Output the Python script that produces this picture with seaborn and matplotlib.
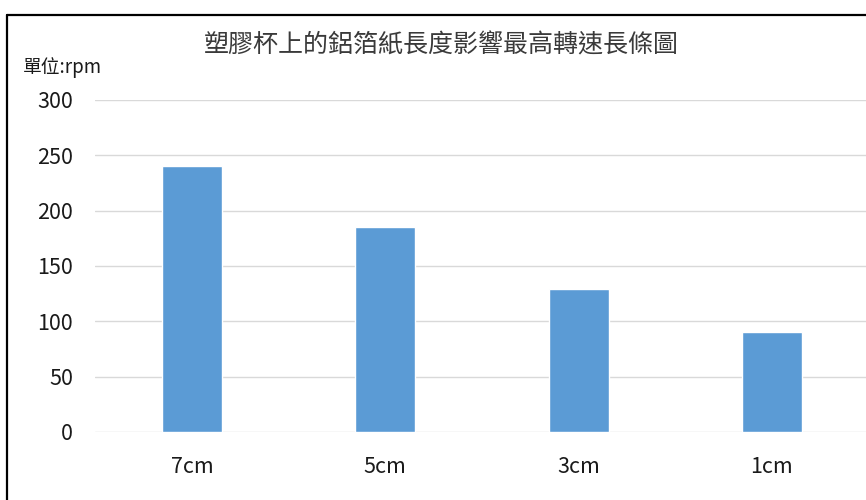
import matplotlib
matplotlib.use("Agg")
import matplotlib.pyplot as plt
from matplotlib.lines import Line2D
import seaborn as sns
import pandas as pd

# Aluminium foil length on the plastic cup vs. highest rotation speed
lengths = ["7cm", "5cm", "3cm", "1cm"]
max_rpm = [240, 185, 129, 90]
y_ticks = [0, 50, 100, 150, 200, 250, 300]
title = "塑膠杯上的鋁箔紙長度影響最高轉速長條圖"
unit_label = "單位:rpm"

sns.set_theme(style="white")
plt.rcParams["font.family"] = ["Noto Sans CJK TC", "DejaVu Sans"]

df = pd.DataFrame({"length": lengths, "rpm": max_rpm})

fig = plt.figure(figsize=(8.66, 5.0), dpi=100)
ax = fig.add_axes([0.110, 0.136, 0.893, 0.664])

sns.barplot(data=df, x="length", y="rpm", order=lengths, color="#5B9BD5",
            saturation=1, width=0.31, ax=ax, zorder=3)

ax.set_xlim(-0.5, 3.5)
ax.set_ylim(0, 300)
ax.set_yticks(y_ticks)
ax.set_yticklabels([str(v) for v in y_ticks])
ax.set_xlabel("")
ax.set_ylabel("")
for s in ax.spines.values():
    s.set_visible(False)
ax.grid(False)
for v in y_ticks:
    ax.axhline(v, color="#D9D9D9", lw=1.0, zorder=1)

ax.tick_params(axis="y", length=0, pad=16, labelsize=15.5, labelcolor="#1a1a1a")
ax.tick_params(axis="x", length=0, pad=17, labelsize=15.5, labelcolor="#1a1a1a")

fig.text(0.510, 0.910, title, ha="center", va="center", fontsize=18,
         fontweight="light", color="#3a3a3a")
fig.text(0.0266, 0.864, unit_label, ha="left", va="center", fontsize=13.5,
         fontweight="light", color="#1a1a1a")

# frame around the chart area
fig.add_artist(Line2D([0.0083, 1.0], [0.9706, 0.9706], color="black",
                      lw=1.6, transform=fig.transFigure))
fig.add_artist(Line2D([0.0083, 0.0083], [0.0, 0.9706], color="black",
                      lw=1.6, transform=fig.transFigure))

fig.savefig("out.png", dpi=100, facecolor="white")
